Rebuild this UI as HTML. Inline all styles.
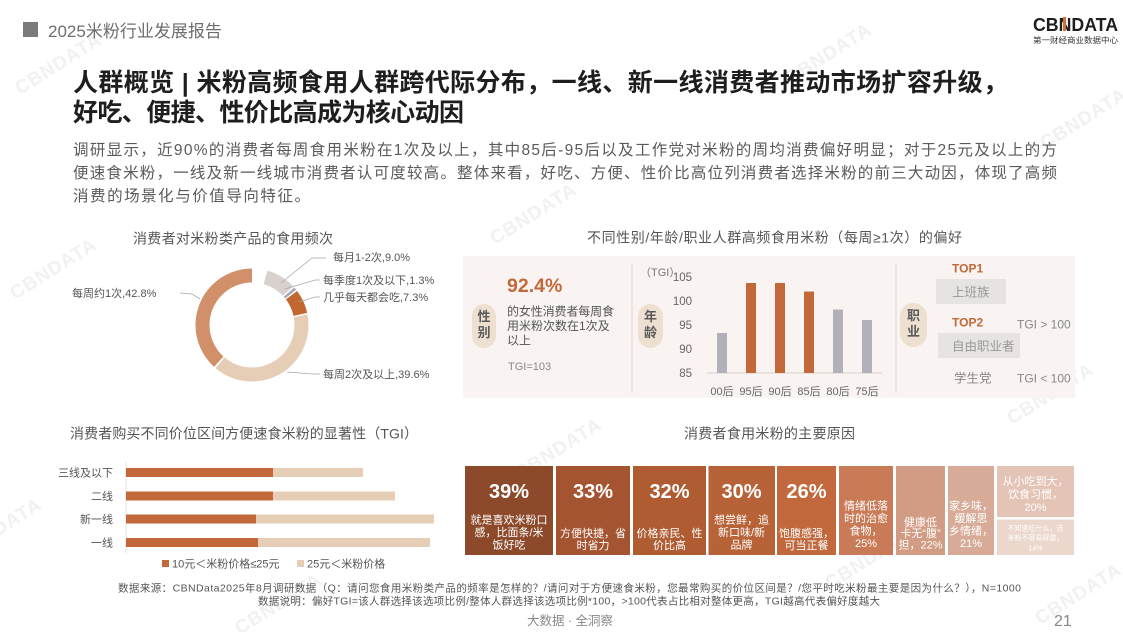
<!DOCTYPE html>
<html><head><meta charset="utf-8"><style>
html,body{margin:0;padding:0;background:#fff;}
svg{display:block;}
text{font-family:"Liberation Sans","Noto Sans CJK SC",sans-serif;}
.wm{font-size:19px;font-weight:700;fill:#f1f1f1;letter-spacing:1px;}
</style></head><body>
<svg width="1123" height="637" viewBox="0 0 1123 637" xmlns="http://www.w3.org/2000/svg">
<rect width="1123" height="637" fill="#fff"/>
<!-- watermarks -->
<g>
<text class="wm" transform="translate(20,95) rotate(-32)">CBNDATA</text>
<text class="wm" transform="translate(790,85) rotate(-32)">CBNDATA</text>
<text class="wm" transform="translate(1045,150) rotate(-32)">CBNDATA</text>
<text class="wm" transform="translate(495,245) rotate(-32)">CBNDATA</text>
<text class="wm" transform="translate(15,300) rotate(-32)">CBNDATA</text>
<text class="wm" transform="translate(785,330) rotate(-32)">CBNDATA</text>
<text class="wm" transform="translate(1012,425) rotate(-32)">CBNDATA</text>
<text class="wm" transform="translate(520,480) rotate(-32)">CBNDATA</text>
<text class="wm" transform="translate(240,635) rotate(-32)">CBNDATA</text>
<text class="wm" transform="translate(1040,625) rotate(-32)">CBNDATA</text>
<text class="wm" transform="translate(830,590) rotate(-32)">CBNDATA</text>
<text class="wm" transform="translate(-40,560) rotate(-32)">CBNDATA</text>
</g>

<!-- header -->
<rect x="23" y="22" width="15" height="15" fill="#7a7a7a"/>
<text x="48" y="37" font-size="17" fill="#6e6e6e">2025米粉行业发展报告</text>

<!-- logo -->
<text x="1033" y="31" font-size="18" font-weight="700" fill="#1e1e1e" textLength="85" lengthAdjust="spacingAndGlyphs">CBNDATA</text>
<rect x="1063" y="17" width="3" height="14" fill="#d0703c"/>
<text x="1033" y="43" font-size="8" fill="#333" textLength="85" lengthAdjust="spacingAndGlyphs">第一财经商业数据中心</text>

<!-- title -->
<text x="73" y="91" font-size="25" font-weight="700" fill="#1e1e1e" textLength="935" lengthAdjust="spacing">人群概览 | 米粉高频食用人群跨代际分布，一线、新一线消费者推动市场扩容升级，</text>
<text x="73" y="121" font-size="25" font-weight="700" fill="#1e1e1e" textLength="391" lengthAdjust="spacing">好吃、便捷、性价比高成为核心动因</text>

<!-- paragraph -->
<g font-size="15.5" fill="#5a5a5a">
<text x="73" y="155" textLength="984" lengthAdjust="spacing">调研显示，近90%的消费者每周食用米粉在1次及以上，其中85后-95后以及工作党对米粉的周均消费偏好明显；对于25元及以上的方</text>
<text x="73" y="178" textLength="984" lengthAdjust="spacing">便速食米粉，一线及新一线城市消费者认可度较高。整体来看，好吃、方便、性价比高位列消费者选择米粉的前三大动因，体现了高频</text>
<text x="73" y="201" textLength="237" lengthAdjust="spacing">消费的场景化与价值导向特征。</text>
</g>

<!-- donut -->
<text x="133" y="243.5" font-size="14" fill="#555" textLength="200" lengthAdjust="spacing">消费者对米粉类产品的食用频次</text>
<g fill="none" stroke-width="14" transform="rotate(-90 252 325)">
<circle cx="252" cy="325" r="49.5" stroke="#d9d1ce" stroke-dasharray="26.5 400" stroke-dashoffset="-13.7"/>
<circle cx="252" cy="325" r="49.5" stroke="#a9a8b6" stroke-dasharray="2.6 400" stroke-dashoffset="-41.7"/>
<circle cx="252" cy="325" r="49.5" stroke="#c2672f" stroke-dasharray="21.2 400" stroke-dashoffset="-45.7"/>
<circle cx="252" cy="325" r="49.5" stroke="#e5cdb6" stroke-dasharray="121.6 400" stroke-dashoffset="-68.4"/>
<circle cx="252" cy="325" r="49.5" stroke="#d2906a" stroke-dasharray="131.6 400" stroke-dashoffset="-191.6"/>
</g>
<g stroke="#a8a8a8" stroke-width="0.8" fill="none">
<polyline points="281,283 312,258 326,258"/>
<polyline points="285,289 315,280 320,280"/>
<polyline points="299,302 315,297 320,297"/>
<polyline points="287,372 313,374 320,374"/>
<polyline points="200,299 192,294 180,293"/>
</g>
<g font-size="11" fill="#555">
<text x="333" y="261">每月1-2次,9.0%</text>
<text x="323" y="284">每季度1次及以下,1.3%</text>
<text x="323" y="301">几乎每天都会吃,7.3%</text>
<text x="323" y="378">每周2次及以上,39.6%</text>
<text x="72" y="297">每周约1次,42.8%</text>
</g>

<!-- middle panel -->
<text x="587" y="242.5" font-size="14" fill="#555" textLength="375" lengthAdjust="spacing">不同性别/年龄/职业人群高频食用米粉（每周≥1次）的偏好</text>
<rect x="463" y="256" width="612" height="142" fill="#f9f4f1"/>
<line x1="632" y1="263" x2="632" y2="393" stroke="#dcd6d2" stroke-width="1"/>
<line x1="896" y1="263" x2="896" y2="393" stroke="#dcd6d2" stroke-width="1"/>
<!-- pills -->
<rect x="472" y="304" width="24" height="44" rx="12" fill="#eee0d1"/>
<text x="484" y="321" font-size="13" font-weight="700" fill="#5a5a5a" text-anchor="middle">性</text>
<text x="484" y="337" font-size="13" font-weight="700" fill="#5a5a5a" text-anchor="middle">别</text>
<rect x="638" y="304" width="25" height="44" rx="12.5" fill="#eee0d1"/>
<text x="650.5" y="321" font-size="13" font-weight="700" fill="#5a5a5a" text-anchor="middle">年</text>
<text x="650.5" y="337" font-size="13" font-weight="700" fill="#5a5a5a" text-anchor="middle">龄</text>
<rect x="900" y="303" width="27" height="44" rx="13.5" fill="#eee0d1"/>
<text x="913.5" y="320" font-size="13" font-weight="700" fill="#5a5a5a" text-anchor="middle">职</text>
<text x="913.5" y="336" font-size="13" font-weight="700" fill="#5a5a5a" text-anchor="middle">业</text>
<!-- gender -->
<text x="507" y="292" font-size="19.5" font-weight="700" fill="#c2683a">92.4%</text>
<g font-size="12" fill="#555">
<text x="507" y="315.5" textLength="107" lengthAdjust="spacing">的女性消费者每周食</text>
<text x="507" y="330">用米粉次数在1次及</text>
<text x="507" y="344.5">以上</text>
</g>
<text x="508" y="370" font-size="11" fill="#888">TGI=103</text>
<!-- age chart -->
<text x="640" y="276" font-size="11" fill="#777">（TGI）</text>
<g font-size="11.5" fill="#666" text-anchor="end">
<text x="692" y="281">105</text>
<text x="692" y="305">100</text>
<text x="692" y="329">95</text>
<text x="692" y="353">90</text>
<text x="692" y="377">85</text>
</g>
<line x1="707" y1="373" x2="882" y2="373" stroke="#d5d0cc" stroke-width="1"/>
<rect x="717" y="333" width="10" height="40" fill="#b2b1ba"/>
<rect x="746" y="283" width="10" height="90" fill="#c2683a"/>
<rect x="775" y="283" width="10" height="90" fill="#c2683a"/>
<rect x="804" y="291.5" width="10" height="81.5" fill="#c2683a"/>
<rect x="833" y="309.5" width="10" height="63.5" fill="#b2b1ba"/>
<rect x="862" y="320" width="10" height="53" fill="#b2b1ba"/>
<g font-size="11" fill="#666" text-anchor="middle">
<text x="722" y="395">00后</text>
<text x="751" y="395">95后</text>
<text x="780" y="395">90后</text>
<text x="809" y="395">85后</text>
<text x="838" y="395">80后</text>
<text x="867" y="395">75后</text>
</g>
<!-- occupation -->
<text x="952" y="272.5" font-size="12" font-weight="700" fill="#c2683a">TOP1</text>
<rect x="936" y="279" width="70" height="25" fill="#e7e3e0"/>
<text x="952" y="296.5" font-size="12.5" fill="#999">上班族</text>
<text x="952" y="326.5" font-size="12" font-weight="700" fill="#c2683a">TOP2</text>
<rect x="938" y="333" width="82" height="25" fill="#e7e3e0"/>
<text x="952" y="350.5" font-size="12.5" fill="#999">自由职业者</text>
<text x="954" y="382.5" font-size="12.5" fill="#888">学生党</text>
<text x="1017" y="328.5" font-size="12" fill="#888">TGI &gt; 100</text>
<text x="1017" y="382.5" font-size="12" fill="#888">TGI &lt; 100</text>

<!-- bottom-left bar chart -->
<text x="70" y="438.5" font-size="14" fill="#555" textLength="348" lengthAdjust="spacing">消费者购买不同价位区间方便速食米粉的显著性（TGI）</text>
<line x1="126" y1="462" x2="126" y2="553" stroke="#e2e2e2" stroke-width="1"/>
<rect x="126" y="468" width="147" height="9" fill="#c2683a"/>
<rect x="273" y="468" width="90" height="9" fill="#e6cdb5"/>
<rect x="126" y="491.5" width="147" height="9" fill="#c2683a"/>
<rect x="273" y="491.5" width="122" height="9" fill="#e6cdb5"/>
<rect x="126" y="514.5" width="130" height="9" fill="#c2683a"/>
<rect x="256" y="514.5" width="178" height="9" fill="#e6cdb5"/>
<rect x="126" y="538" width="132" height="9" fill="#c2683a"/>
<rect x="258" y="538" width="172" height="9" fill="#e6cdb5"/>
<g font-size="11" fill="#555" text-anchor="end">
<text x="113" y="476.5">三线及以下</text>
<text x="113" y="500">二线</text>
<text x="113" y="523">新一线</text>
<text x="113" y="546.5">一线</text>
</g>
<rect x="162" y="560" width="7" height="7" fill="#c2683a"/>
<text x="172" y="567.5" font-size="11" fill="#555">10元＜米粉价格≤25元</text>
<rect x="297" y="560" width="7" height="7" fill="#e6cdb5"/>
<text x="307" y="567.5" font-size="11" fill="#555">25元＜米粉价格</text>

<!-- treemap -->
<text x="684" y="438.5" font-size="14" fill="#555" textLength="171" lengthAdjust="spacing">消费者食用米粉的主要原因</text>
<rect x="465" y="466" width="88" height="89" fill="#8d4a2b"/>
<rect x="556" y="466" width="74" height="89" fill="#a45430"/>
<rect x="633" y="466" width="73" height="89" fill="#af5c33"/>
<rect x="708.5" y="466" width="66.5" height="89" fill="#b86238"/>
<rect x="777" y="466" width="59" height="89" fill="#c1693c"/>
<rect x="839" y="466" width="54" height="89" fill="#c97a56"/>
<rect x="896" y="466" width="49" height="89" fill="#d29b83"/>
<rect x="948" y="466" width="46" height="89" fill="#d8ab98"/>
<rect x="997" y="466" width="77" height="51" fill="#e3c4b6"/>
<rect x="997" y="519.5" width="77" height="35.5" fill="#ecd7cd"/>
<g fill="#fff" font-weight="700" font-size="20" text-anchor="middle">
<text x="509" y="498">39%</text>
<text x="593" y="498">33%</text>
<text x="669.5" y="498">32%</text>
<text x="741.5" y="498">30%</text>
<text x="806.5" y="498">26%</text>
</g>
<g fill="#fff" font-size="11" text-anchor="middle">
<text x="509" y="523.5">就是喜欢米粉口</text>
<text x="509" y="536">感，比面条/米</text>
<text x="509" y="548.5">饭好吃</text>
<text x="593" y="537">方便快捷，省</text>
<text x="593" y="549">时省力</text>
<text x="669.5" y="537">价格亲民、性</text>
<text x="669.5" y="549">价比高</text>
<text x="741.5" y="523.5">想尝鲜，追</text>
<text x="741.5" y="536">新口味/新</text>
<text x="741.5" y="548.5">品牌</text>
<text x="806.5" y="537">饱腹感强，</text>
<text x="806.5" y="549">可当正餐</text>
<text x="866" y="509.5">情绪低落</text>
<text x="866" y="522">时的治愈</text>
<text x="866" y="534.5">食物，</text>
<text x="866" y="547">25%</text>
<text x="920.5" y="526">健康低</text>
<text x="920.5" y="537">卡无“腹”</text>
<text x="920.5" y="548.5">担，22%</text>
<text x="971" y="509.5">家乡味，</text>
<text x="971" y="522">缓解思</text>
<text x="971" y="534.5">乡情绪，</text>
<text x="971" y="547">21%</text>
<text x="1035.5" y="485">从小吃到大，</text>
<text x="1035.5" y="498">饮食习惯，</text>
<text x="1035.5" y="511">20%</text>
</g>
<g fill="#fff" font-size="7" text-anchor="middle">
<text x="1035.5" y="530.5">不知道吃什么，选</text>
<text x="1035.5" y="540">米粉不容易踩雷，</text>
<text x="1035.5" y="550.5">14%</text>
</g>

<!-- footer -->
<g font-size="10.5" fill="#555">
<text x="118" y="591.5" textLength="903" lengthAdjust="spacing">数据来源：CBNData2025年8月调研数据（Q：请问您食用米粉类产品的频率是怎样的？/请问对于方便速食米粉，您最常购买的价位区间是？/您平时吃米粉最主要是因为什么？），N=1000</text>
<text x="258" y="604.5" textLength="622" lengthAdjust="spacing">数据说明：偏好TGI=该人群选择该选项比例/整体人群选择该选项比例*100，&gt;100代表占比相对整体更高，TGI越高代表偏好度越大</text>
</g>
<text x="570" y="625" font-size="12.5" fill="#888" text-anchor="middle">大数据 · 全洞察</text>
<text x="1054" y="626" font-size="16" fill="#888">21</text>
</svg>
</body></html>
